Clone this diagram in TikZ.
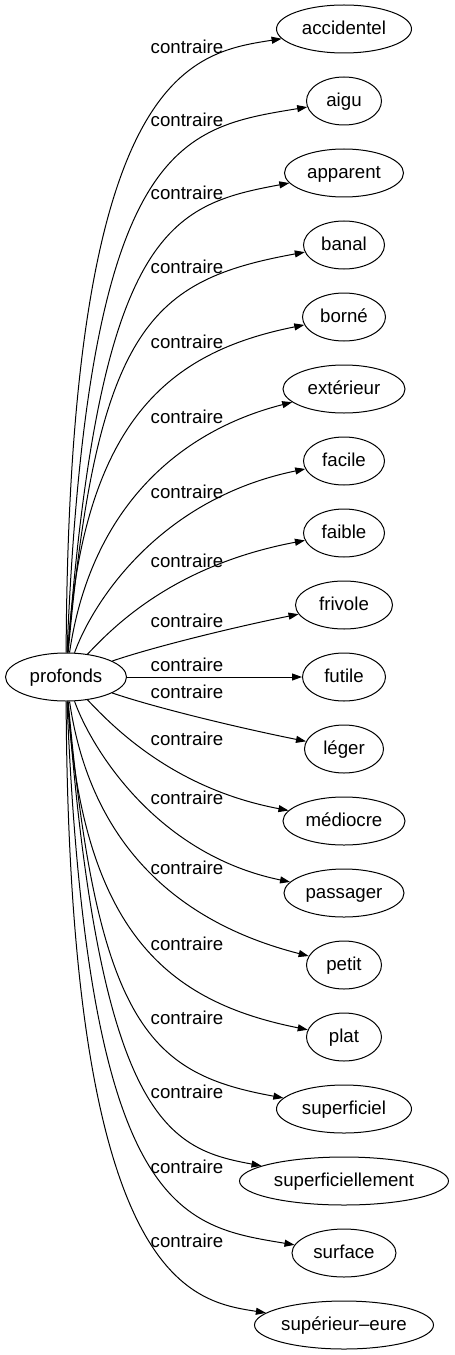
\documentclass[tikz,border=0pt]{standalone}
\usepackage{fontspec}
\setmainfont{Liberation Sans}
\usetikzlibrary{shapes.geometric, arrows.meta}

\begin{document}
\begin{tikzpicture}[
  x=0.75pt, y=-0.75pt,
  word/.style={ellipse, draw, line width=0.75pt, inner sep=0pt,
    minimum height=36pt, font=\fontsize{14}{16}\selectfont,
    text height=11pt, text depth=2.4pt},
  lbl/.style={inner sep=0pt, font=\fontsize{14}{16}\selectfont,
    text height=11pt, text depth=2.4pt},
  rel/.style={line width=0.75pt, -{Triangle[length=7.5pt, width=5.25pt]}},
]

\useasboundingbox (0,0) rectangle (454,1355);

% Column of the antonyms, column of the labels
\def\colx{344}
\def\labx{187}

% Source word
\node[word, minimum width=90.75pt] (profonds) at (66, 677) {profonds};

% Antonyms, one row every 72 px
\node[word, minimum width=101.25pt] (accidentel) at (\colx, 29) {accidentel};
\node[word, minimum width=56.25pt] (aigu) at (\colx, 101) {aigu};
\node[word, minimum width=89.25pt] (apparent) at (\colx, 173) {apparent};
\node[word, minimum width=60.75pt] (banal) at (\colx, 245) {banal};
\node[word, minimum width=62.25pt] (borne) at (\colx, 317) {borné};
\node[word, minimum width=91.5pt] (exterieur) at (\colx, 389) {extérieur};
\node[word, minimum width=60.75pt] (facile) at (\colx, 461) {facile};
\node[word, minimum width=60.75pt] (faible) at (\colx, 533) {faible};
\node[word, minimum width=72.75pt] (frivole) at (\colx, 605) {frivole};
\node[word, minimum width=62.25pt] (futile) at (\colx, 677) {futile};
\node[word, minimum width=59.25pt] (leger) at (\colx, 749) {léger};
\node[word, minimum width=91.5pt] (mediocre) at (\colx, 821) {médiocre};
\node[word, minimum width=90pt] (passager) at (\colx, 893) {passager};
\node[word, minimum width=56.25pt] (petit) at (\colx, 965) {petit};
\node[word, minimum width=56.25pt] (plat) at (\colx, 1037) {plat};
\node[word, minimum width=101.25pt] (superficiel) at (\colx, 1109) {superficiel};
\node[word, minimum width=156.75pt] (superficiellement) at (\colx, 1181) {superficiellement};
\node[word, minimum width=78pt] (surface) at (\colx, 1253) {surface};
\node[word, minimum width=134.25pt] (superieur) at (\colx, 1325) {supérieur–eure};

% Edge labels
\node[lbl] (lab1) at (\labx, 48) {contraire};
\node[lbl] (lab2) at (\labx, 121) {contraire};
\node[lbl] (lab3) at (\labx, 194) {contraire};
\node[lbl] (lab4) at (\labx, 268) {contraire};
\node[lbl] (lab5) at (\labx, 343) {contraire};
\node[lbl] (lab6) at (\labx, 418) {contraire};
\node[lbl] (lab7) at (\labx, 493) {contraire};
\node[lbl] (lab8) at (\labx, 562) {contraire};
\node[lbl] (lab9) at (\labx, 622) {contraire};
\node[lbl] (lab10) at (\labx, 666) {contraire};
\node[lbl] (lab11) at (\labx, 693) {contraire};
\node[lbl] (lab12) at (\labx, 740) {contraire};
\node[lbl] (lab13) at (\labx, 799) {contraire};
\node[lbl] (lab14) at (\labx, 869) {contraire};
\node[lbl] (lab15) at (\labx, 945) {contraire};
\node[lbl] (lab16) at (\labx, 1019) {contraire};
\node[lbl] (lab17) at (\labx, 1093) {contraire};
\node[lbl] (lab18) at (\labx, 1168) {contraire};
\node[lbl] (lab19) at (\labx, 1242) {contraire};

% Upper edges
\draw[rel] (profonds) .. controls (69,71) and (190,53) .. (accidentel);
\draw[rel] (profonds) .. controls (88,140) and (180,128) .. (aigu);
\draw[rel] (profonds) .. controls (100,230) and (170,205) .. (apparent);
\draw[rel] (profonds) .. controls (97,325) and (152,280) .. (banal);
\draw[rel] (profonds) .. controls (83,420) and (169,352) .. (borne);
\draw[rel] (profonds) .. controls (90,512) and (175,432) .. (exterieur);
\draw[rel] (profonds) .. controls (90,609) and (154,500) .. (facile);
\draw[rel] (profonds) .. controls (115,625) and (175,565) .. (faible);
\draw[rel] (profonds) .. controls (150,648) and (230,628) .. (frivole);

% Middle edge
\draw[rel] (profonds) -- (futile);

% Lower edges
\draw[rel] (profonds) .. controls (150,706) and (230,726) .. (leger);
\draw[rel] (profonds) .. controls (115,729) and (175,789) .. (mediocre);
\draw[rel] (profonds) .. controls (90,745) and (154,854) .. (passager);
\draw[rel] (profonds) .. controls (90,842) and (175,922) .. (petit);
\draw[rel] (profonds) .. controls (83,934) and (169,1002) .. (plat);
\draw[rel] (profonds) .. controls (97,1029) and (152,1074) .. (superficiel);
\draw[rel] (profonds) .. controls (100,1124) and (170,1149) .. (superficiellement);
\draw[rel] (profonds) .. controls (88,1214) and (180,1226) .. (surface);
\draw[rel] (profonds) .. controls (69,1283) and (190,1301) .. (superieur);

\end{tikzpicture}
\end{document}
